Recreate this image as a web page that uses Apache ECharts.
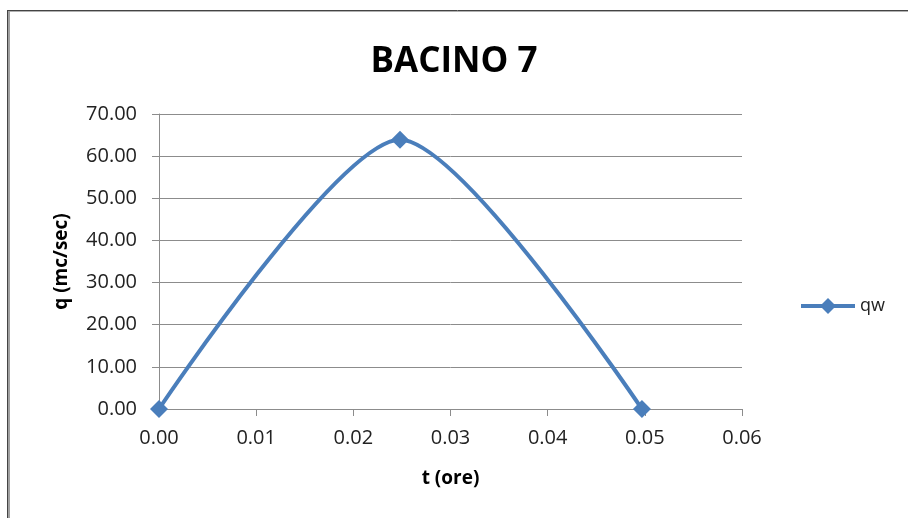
<!DOCTYPE html>
<html>
<head>
<meta charset="utf-8">
<script src="https://cdn.jsdelivr.net/npm/echarts@6/dist/echarts.min.js"></script>
<style>
  html, body { margin: 0; padding: 0; background: #fff; }
  #chart { width: 908px; height: 518px; }
</style>
</head>
<body>
<div id="chart"></div>
<script>
// Hydrograph of basin 7: time (hours) vs discharge (m³/s)
const chartTitle = 'BACINO 7';
const seriesName = 'qw';
const timeHours = [0, 0.0248, 0.0497];
const discharge = [0, 63.9, 0];
const xTicks = { min: 0, max: 0.06, step: 0.01 };
const yTicks = { min: 0, max: 70, step: 10 };

const FONT = '"Open Sans", "Liberation Sans", sans-serif';
const BLUE = '#4a7ebb';
const GRID = '#8c8c8c';

const chart = echarts.init(document.getElementById('chart'), null, { renderer: 'canvas' });

const points = timeHours.map((t, i) => [t, discharge[i]]);

chart.setOption({
  animation: false,
  backgroundColor: '#ffffff',
  title: {
    text: chartTitle,
    left: 'center',
    top: 40,
    textStyle: { fontFamily: FONT, fontSize: 35, fontWeight: 'bold', color: '#000' }
  },
  legend: {
    data: [seriesName],
    left: 794,
    top: 292,
    itemWidth: 54,
    itemHeight: 20,
    itemGap: 4,
    lineStyle: { width: 4 },
    textStyle: { fontFamily: FONT, fontSize: 18, color: '#222' }
  },
  grid: { left: 159, right: 166, top: 114, bottom: 109, containLabel: false },
  xAxis: {
    type: 'value',
    min: xTicks.min,
    max: xTicks.max,
    interval: xTicks.step,
    name: 't (ore)',
    nameLocation: 'middle',
    nameGap: 60,
    nameTextStyle: { fontFamily: FONT, fontSize: 19, fontWeight: 'bold', color: '#000' },
    axisLine: { show: true, lineStyle: { color: GRID, width: 1 } },
    axisTick: { show: true, inside: false, length: 7, lineStyle: { color: GRID } },
    axisLabel: {
      margin: 19,
      fontFamily: FONT, fontSize: 20, color: '#222',
      formatter: v => v.toFixed(2)
    },
    splitLine: { show: false }
  },
  yAxis: {
    type: 'value',
    min: yTicks.min,
    max: yTicks.max,
    interval: yTicks.step,
    name: 'q (mc/sec)',
    nameLocation: 'middle',
    nameGap: 88,
    nameTextStyle: { fontFamily: FONT, fontSize: 19, fontWeight: 'bold', color: '#000' },
    axisLine: { show: true, lineStyle: { color: GRID, width: 1 } },
    axisTick: { show: true, inside: false, length: 7, lineStyle: { color: GRID } },
    axisLabel: {
      margin: 22,
      fontFamily: FONT, fontSize: 20, color: '#222',
      formatter: v => v.toFixed(2)
    },
    splitLine: { show: true, lineStyle: { color: GRID, width: 1 } }
  },
  series: [{
    name: seriesName,
    type: 'line',
    data: points,
    smooth: 0.25,
    symbol: 'diamond',
    symbolSize: 18,
    showSymbol: true,
    lineStyle: { color: BLUE, width: 4 },
    itemStyle: { color: BLUE }
  }],
  graphic: [
    // chart frame (top and left edges)
    { type: 'line', shape: { x1: 7, y1: 10.5, x2: 908, y2: 10.5 }, style: { stroke: '#444', lineWidth: 1 } },
    { type: 'line', shape: { x1: 8, y1: 11.5, x2: 908, y2: 11.5 }, style: { stroke: '#b0b0b0', lineWidth: 1 } },
    { type: 'line', shape: { x1: 7.5, y1: 10, x2: 7.5, y2: 518 }, style: { stroke: '#444', lineWidth: 1 } },
    { type: 'line', shape: { x1: 9, y1: 11, x2: 9, y2: 518 }, style: { stroke: '#a0a0a0', lineWidth: 2 } }
  ]
});
</script>
</body>
</html>
